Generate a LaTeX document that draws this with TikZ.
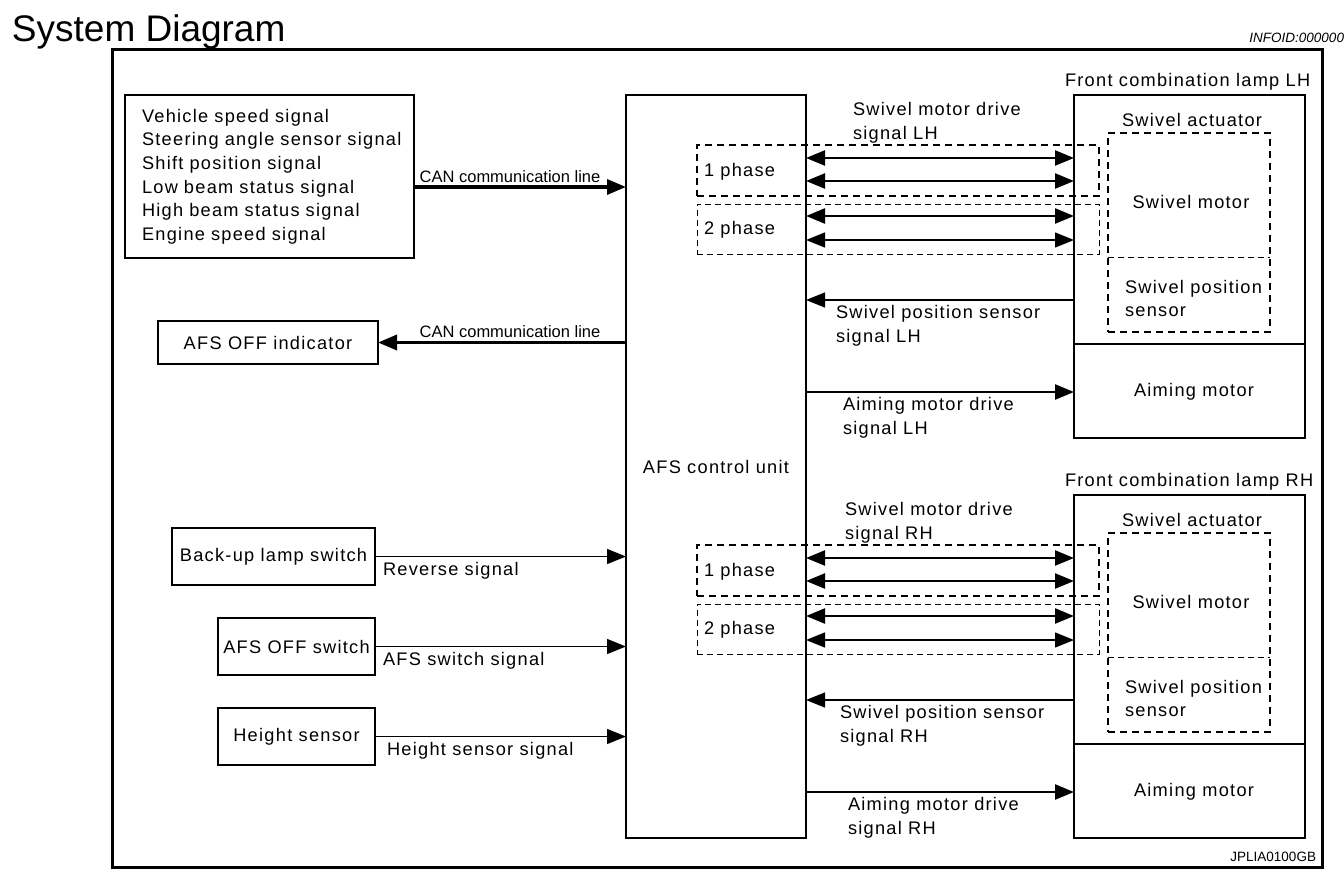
\documentclass[tikz,border=0pt]{standalone}
\usepackage{fontspec}
\setmainfont[LetterSpace=7]{Liberation Sans}
\newfontfamily\plainsans{Liberation Sans}
\usetikzlibrary{arrows.meta}
\begin{document}
\begin{tikzpicture}[x=1pt,y=-1pt,
  every node/.style={inner sep=0pt, outer sep=0pt},
  lbl/.style={font=\fontsize{18.2}{23.6}\selectfont},
  tl/.style={lbl, yshift=-1.5pt},
  canlbl/.style={font=\plainsans\fontsize{16.5}{18}\selectfont},
  smalllbl/.style={font=\plainsans\fontsize{13.5}{15}\selectfont},
  box/.style={draw, line width=1.3pt},
  dbox/.style={draw, line width=2pt, dash pattern=on 7pt off 5pt},
  dboxthin/.style={draw, line width=1pt, dash pattern=on 6pt off 4pt},
  tipa/.style={-{Triangle[length=19pt,width=15pt]}},
  tipb/.style={{Triangle[length=19pt,width=15pt]}-{Triangle[length=19pt,width=15pt]}},
  thinline/.style={line width=1.3pt},
  heavy/.style={line width=2.3pt},
  canline/.style={line width=3.5pt},
]
\useasboundingbox (0,0) rectangle (1344,886);
% frame and titles
\node[draw, line width=3pt, minimum width=1210pt, minimum height=818pt, anchor=north west] (frame) at (112,49) {};
\node[font=\plainsans\fontsize{37}{40}\selectfont, anchor=west] (title) at (12,32) {System Diagram};
\node[smalllbl, font=\plainsans\itshape\fontsize{13.5}{15}\selectfont, anchor=east] (infoid) at (1344,38) {INFOID:000000};
\node[smalllbl, anchor=east] (jpl) at (1316,857) {JPLIA0100GB};

% left side
\node[box, lbl, text width=255pt, align=left, inner xsep=17pt, minimum height=163pt, anchor=north west] (inbox) at (125,95)
  {\mbox{Vehicle speed signal}\\\mbox{Steering angle sensor signal}\\\mbox{Shift position signal}\\\mbox{Low beam status signal}\\\mbox{High beam status signal}\\\mbox{Engine speed signal}};
\node[box, lbl, minimum width=180pt, minimum height=743pt, anchor=north west] (afs) at (626,95) {AFS control unit};
\node[box, lbl, minimum width=220pt, minimum height=43pt, anchor=north west] (ind) at (158,321) {AFS OFF indicator};
\node[box, lbl, minimum width=203pt, minimum height=57pt, anchor=north west] (bk) at (172,528) {Back-up lamp switch};
\node[box, lbl, minimum width=157pt, minimum height=57pt, anchor=north west] (sw) at (218,618) {AFS OFF switch};
\node[box, lbl, minimum width=157pt, minimum height=57pt, anchor=north west] (hs) at (218,708) {Height sensor};

\draw[canline, tipa] (inbox.east |- 0,187) -- (afs.west |- 0,187);
\node[canlbl, anchor=base] (can1) at (510,182) {CAN communication line};
\draw[canline, tipa] (afs.west |- ind.east) -- (ind.east);
\node[canlbl, anchor=base] (can2) at (510,337) {CAN communication line};
\draw[thinline, tipa] (bk.east) -- (afs.west |- bk.east);
\node[tl, anchor=west] (l1) at (383,569) {Reverse signal};
\draw[thinline, tipa] (sw.east) -- (afs.west |- sw.east);
\node[tl, anchor=west] (l2) at (383,659) {AFS switch signal};
\draw[thinline, tipa] (hs.east) -- (afs.west |- hs.east);
\node[tl, anchor=west] (l3) at (387,749) {Height sensor signal};

% lamps
\foreach \s/\o/\xa/\xb/\xc in {LH/0/853/836/843, RH/400/845/840/848} {
  \begin{scope}[shift={(0,\o)}]
    \node[tl, anchor=west] (lt\s) at (1065,80) {Front combination lamp \s};
    \node[box, minimum width=231pt, minimum height=343pt, anchor=north west] (lamp\s) at (1074,95) {};
    \draw[thinline] (lamp\s.west |- 0,344) -- (lamp\s.east |- 0,344);
    \node[tl] (act\s) at (1192,118) {Swivel actuator};
    \node[dbox, minimum width=162pt, minimum height=199pt, anchor=north west] (sm\s) at (1108,133) {};
    \draw[dboxthin] (sm\s.west |- 0,257) -- (sm\s.east |- 0,257);
    \node[tl] (smt\s) at (1191,200) {Swivel motor};
    \node[tl, align=left, anchor=west] (sps\s) at (1125,297) {Swivel position\\sensor};
    \node[tl] (aim\s) at (1194,390) {Aiming motor};
    \node[dbox, minimum width=402pt, minimum height=51pt, anchor=north west] (pa\s) at (697,145) {};
    \node[dboxthin, minimum width=402pt, minimum height=50pt, anchor=north west] (pb\s) at (697,204) {};
    \node[tl, anchor=west] (pat\s) at (704,170) {1 phase};
    \node[tl, anchor=west] (pbt\s) at (704,228) {2 phase};
    \foreach \yy/\ww in {158/heavy,181/heavy,216/heavy,240/thinline}
      \draw[\ww, tipb] (afs.east |- 0,\yy) -- (lamp\s.west |- 0,\yy);
    \node[tl, align=left, anchor=west] (smd\s) at (\xa,121) {Swivel motor drive\\signal \s};
    \draw[thinline, tipa] (lamp\s.west |- 0,300) -- (afs.east |- 0,300);
    \node[tl, align=left, anchor=west] (spl\s) at (\xb,324) {Swivel position sensor\\signal \s};
    \draw[heavy, tipa] (afs.east |- 0,392) -- (lamp\s.west |- 0,392);
    \node[tl, align=left, anchor=west] (aml\s) at (\xc,416) {Aiming motor drive\\signal \s};
  \end{scope}
}
\end{tikzpicture}
\end{document}
